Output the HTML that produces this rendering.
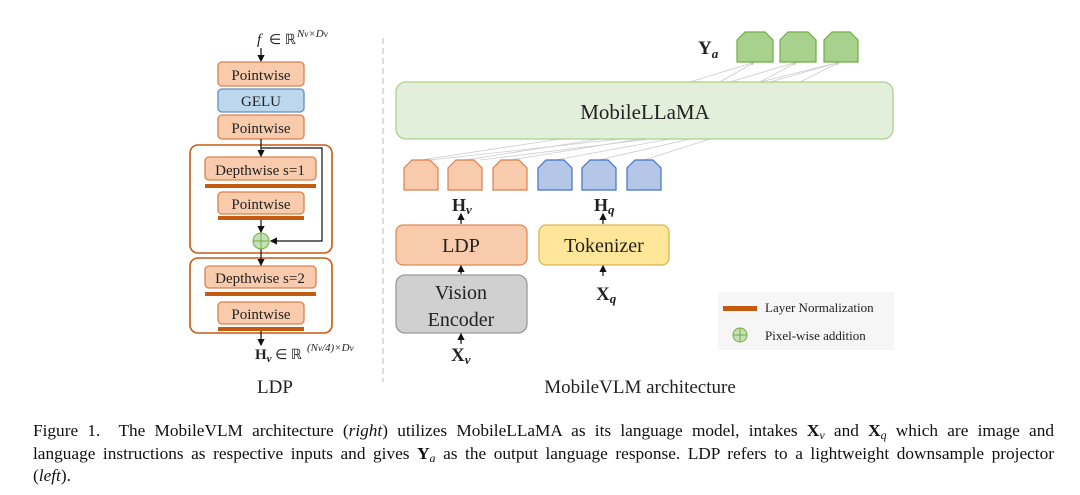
<!DOCTYPE html>
<html><head><meta charset="utf-8"><style>
html,body{margin:0;padding:0;background:#fff;width:1080px;height:495px;overflow:hidden}
svg{position:absolute;left:0;top:0}
.cap{position:absolute;left:33px;top:420px;width:1021px;font-family:"Liberation Serif",serif;font-size:17.3px;line-height:22.5px;color:#111}
.cap div{text-align:justify;text-align-last:justify;white-space:nowrap;height:22.5px}
.cap div.last{text-align-last:left}
.cap sub{font-size:12px;line-height:0;vertical-align:-3px}
.t{font-family:"Liberation Serif",serif;fill:#222}
</style></head><body>
<svg width="1080" height="495" viewBox="0 0 1080 495">
<defs><marker id="a" markerWidth="6" markerHeight="6" refX="5" refY="3" orient="auto"><path d="M0,0L6,3L0,6z" fill="#111"/></marker>
<marker id="g" markerWidth="6" markerHeight="6" refX="5" refY="3" orient="auto"><path d="M0,0L6,3L0,6z" fill="#bbb"/></marker></defs>
<text class="t" x="257" y="44" font-size="15" font-style="italic">f</text>
<text class="t" x="269" y="44" font-size="14">∈ ℝ</text>
<text class="t" x="297" y="37" font-size="11" font-style="italic">N<tspan font-size="9">v</tspan>×D<tspan font-size="9">v</tspan></text>
<line x1="261" y1="48" x2="261" y2="61" stroke="#111" stroke-width="1.2" marker-end="url(#a)"/>
<g stroke-width="1.3">
<rect x="218" y="62" width="86" height="24" rx="4" fill="#f8cbad" stroke="#d9804f"/>
<rect x="218" y="89" width="86" height="23" rx="4" fill="#bdd7ee" stroke="#5b8fc7"/>
<rect x="218" y="115" width="86" height="24" rx="4" fill="#f8cbad" stroke="#d9804f"/>
<rect x="190" y="145" width="142" height="108" rx="8" fill="#fff" stroke="#c55a11" stroke-width="1.6"/>
<rect x="190" y="258" width="142" height="75" rx="8" fill="#fff" stroke="#c55a11" stroke-width="1.6"/>
<rect x="205" y="157" width="111" height="23" rx="4" fill="#f8cbad" stroke="#d9804f"/>
<rect x="218" y="192" width="86" height="22" rx="4" fill="#f8cbad" stroke="#d9804f"/>
<rect x="205" y="266" width="111" height="22" rx="4" fill="#f8cbad" stroke="#d9804f"/>
<rect x="218" y="302" width="86" height="22" rx="4" fill="#f8cbad" stroke="#d9804f"/>
</g>
<rect x="205" y="184" width="111" height="4" fill="#c55a11"/>
<rect x="218" y="216" width="86" height="4" fill="#c55a11"/>
<rect x="205" y="292" width="111" height="4" fill="#c55a11"/>
<rect x="218" y="327" width="86" height="4" fill="#c55a11"/>
<g class="t" font-size="15" text-anchor="middle">
<text x="261" y="80">Pointwise</text><text x="261" y="106">GELU</text><text x="261" y="133">Pointwise</text>
<text x="260" y="175">Depthwise s=1</text><text x="261" y="209">Pointwise</text>
<text x="260" y="283">Depthwise s=2</text><text x="261" y="319">Pointwise</text>
</g>
<g stroke="#111" stroke-width="1.2" fill="none">
<line x1="261" y1="139" x2="261" y2="156" marker-end="url(#a)"/>
<polyline points="261,148 322,148 322,241 271,241" marker-end="url(#a)"/>
<line x1="261" y1="220" x2="261" y2="232" marker-end="url(#a)"/>
<line x1="261" y1="249" x2="261" y2="265" marker-end="url(#a)"/>
<line x1="261" y1="331" x2="261" y2="345" marker-end="url(#a)"/>
</g>
<circle cx="261" cy="241" r="8" fill="#c5e0b4" stroke="#70ad47"/>
<line x1="253" y1="241" x2="269" y2="241" stroke="#70ad47"/><line x1="261" y1="233" x2="261" y2="249" stroke="#70ad47"/>
<text class="t" x="255" y="359" font-size="15" font-weight="bold">H<tspan font-size="11" font-style="italic" dy="3">v</tspan><tspan dy="-3" font-weight="normal" font-size="14"> ∈ ℝ</tspan></text>
<text class="t" x="307" y="351" font-size="11" font-style="italic">(N<tspan font-size="9">v</tspan>/4)×D<tspan font-size="9">v</tspan></text>
<text class="t" x="275" y="393" font-size="19" text-anchor="middle">LDP</text>
<line x1="383" y1="38" x2="383" y2="382" stroke="#bbb" stroke-dasharray="6,4"/>
<g stroke="#ccc" stroke-width="0.8">
<line x1="421" y1="160" x2="560" y2="139"/><line x1="465" y1="160" x2="600" y2="139"/><line x1="510" y1="160" x2="640" y2="139"/>
<line x1="555" y1="160" x2="670" y2="139"/><line x1="599" y1="160" x2="690" y2="139"/><line x1="644" y1="160" x2="710" y2="139"/>
<line x1="430" y1="160" x2="620" y2="139"/><line x1="480" y1="160" x2="650" y2="139"/>
<line x1="690" y1="82" x2="755" y2="62" marker-end="url(#g)"/><line x1="720" y1="82" x2="755" y2="62"/>
<line x1="730" y1="82" x2="797" y2="62" marker-end="url(#g)"/><line x1="760" y1="82" x2="797" y2="62"/>
<line x1="770" y1="82" x2="840" y2="62" marker-end="url(#g)"/><line x1="800" y1="82" x2="840" y2="62"/><line x1="760" y1="82" x2="840" y2="62"/>
</g>
<rect x="396" y="82" width="497" height="57" rx="10" fill="#e2efda" stroke="#a9d18e" stroke-width="1.3"/>
<text class="t" x="645" y="119" font-size="21" text-anchor="middle">MobileLLaMA</text>
<g stroke-width="1.2">
<path d="M737,62V40L745,32H765L773,40V62Z" fill="#a9d18e" stroke="#70ad47"/>
<path d="M780,62V40L788,32H808L816,40V62Z" fill="#a9d18e" stroke="#70ad47"/>
<path d="M824,62V40L832,32H850L858,40V62Z" fill="#a9d18e" stroke="#70ad47"/>
<path d="M404,190V168L412,160H430L438,168V190Z" fill="#f8cbad" stroke="#d9804f"/>
<path d="M448,190V168L456,160H474L482,168V190Z" fill="#f8cbad" stroke="#d9804f"/>
<path d="M493,190V168L501,160H519L527,168V190Z" fill="#f8cbad" stroke="#d9804f"/>
<path d="M538,190V168L546,160H564L572,168V190Z" fill="#b4c7e7" stroke="#4472c4"/>
<path d="M582,190V168L590,160H608L616,168V190Z" fill="#b4c7e7" stroke="#4472c4"/>
<path d="M627,190V168L635,160H653L661,168V190Z" fill="#b4c7e7" stroke="#4472c4"/>
</g>
<text class="t" x="698" y="54" font-size="19" font-weight="bold">Y<tspan font-size="13" font-style="italic" dy="4">a</tspan></text>
<text class="t" x="452" y="211" font-size="18" font-weight="bold">H<tspan font-size="13" font-style="italic" dy="3">v</tspan></text>
<text class="t" x="594" y="211" font-size="18" font-weight="bold">H<tspan font-size="13" font-style="italic" dy="3">q</tspan></text>
<rect x="396" y="225" width="131" height="40" rx="7" fill="#f8cbad" stroke="#e08a58" stroke-width="1.3"/>
<rect x="539" y="225" width="130" height="40" rx="7" fill="#ffe699" stroke="#d6b656" stroke-width="1.3"/>
<rect x="396" y="275" width="131" height="58" rx="9" fill="#d0d0d0" stroke="#999" stroke-width="1.3"/>
<g class="t" font-size="20" text-anchor="middle">
<text x="461" y="252">LDP</text><text x="604" y="252">Tokenizer</text>
<text x="461" y="299">Vision</text><text x="461" y="326">Encoder</text>
</g>
<g stroke="#111" stroke-width="1.2">
<line x1="461" y1="224" x2="461" y2="214" marker-end="url(#a)"/>
<line x1="603" y1="224" x2="603" y2="214" marker-end="url(#a)"/>
<line x1="461" y1="274" x2="461" y2="266" marker-end="url(#a)"/>
<line x1="603" y1="276" x2="603" y2="266" marker-end="url(#a)"/>
<line x1="461" y1="344" x2="461" y2="334" marker-end="url(#a)"/>
</g>
<text class="t" x="451" y="361" font-size="19" font-weight="bold">X<tspan font-size="13" font-style="italic" dy="3">v</tspan></text>
<text class="t" x="596" y="300" font-size="19" font-weight="bold">X<tspan font-size="13" font-style="italic" dy="3">q</tspan></text>
<rect x="718" y="292" width="176" height="58" fill="#f6f6f6"/>
<rect x="723" y="306" width="34" height="5" fill="#c55a11"/>
<text class="t" x="765" y="312" font-size="13">Layer Normalization</text>
<circle cx="740" cy="335" r="7" fill="#c5e0b4" stroke="#70ad47"/>
<line x1="733" y1="335" x2="747" y2="335" stroke="#70ad47"/><line x1="740" y1="328" x2="740" y2="342" stroke="#70ad47"/>
<text class="t" x="765" y="340" font-size="13">Pixel-wise addition</text>
<text class="t" x="640" y="393" font-size="19" text-anchor="middle">MobileVLM architecture</text>
</svg>
<div class="cap">
<div>Figure 1.&nbsp; The MobileVLM architecture (<i>right</i>) utilizes MobileLLaMA as its language model, intakes <b>X</b><sub><i>v</i></sub> and <b>X</b><sub><i>q</i></sub> which are image and</div>
<div>language instructions as respective inputs and gives <b>Y</b><sub><i>a</i></sub> as the output language response. LDP refers to a lightweight downsample projector</div>
<div class="last">(<i>left</i>).</div>
</div>
</body></html>
